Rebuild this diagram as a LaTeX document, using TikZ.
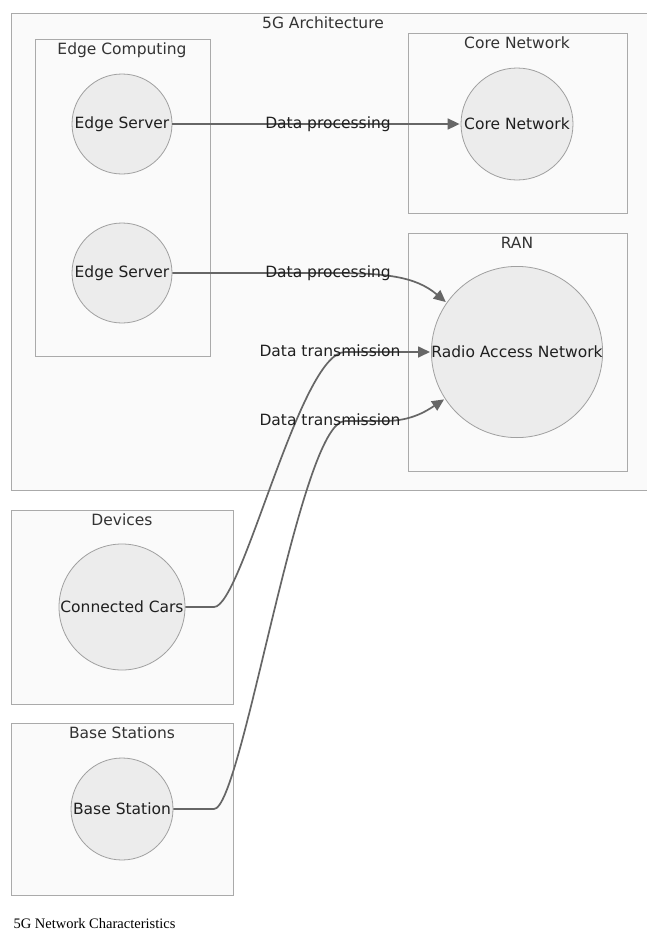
\documentclass[tikz,border=0pt]{standalone}
\usepackage{fontspec}
\setmainfont{DejaVu Sans}
\newfontfamily\captionfont{Liberation Serif}
\usetikzlibrary{arrows.meta}
\definecolor{boxfill}{HTML}{FAFAFA}
\definecolor{boxline}{HTML}{AAAAAA}
\definecolor{nodefill}{HTML}{ECECEC}
\definecolor{nodeline}{HTML}{A0A0A0}
\definecolor{linkcol}{HTML}{666666}
\definecolor{txt}{HTML}{333333}

\begin{document}
\begin{tikzpicture}[x=1pt, y=-1pt, shorten >=1pt, text=txt, font=\fontsize{15.5}{18}\selectfont,
    group/.style={draw=boxline, fill=boxfill, line width=0.9pt},
    link/.style={draw=linkcol, line width=1.7pt, -{Triangle[length=12pt,width=11pt]}}]
   \useasboundingbox (0,0) rectangle (647,932);
   \fill[white] (0,0) rectangle (647,932);
   \draw[group] (11,13) rectangle (652,490);
   \draw[group] (35,39) rectangle (210,356);
   \draw[group] (408,33) rectangle (627,213);
   \draw[group] (408,233) rectangle (627,471);
   \draw[group] (11,510) rectangle (233,704);
   \draw[group] (11,723) rectangle (233,895);
   \begin{scope}[every node/.style={text height=11pt, text depth=3pt}]
    \node (arch) at (323,24) {5G Architecture};
    \node (edge) at (122,50) {Edge Computing};
    \node (coret) at (517,44) {Core Network};
    \node (rant) at (517,244) {RAN};
    \node (devt) at (122,521) {Devices};
    \node (bst) at (122,734) {Base Stations};
   \end{scope}
   \begin{scope}[every node/.style={circle, draw=nodeline, fill=nodefill, line width=0.8pt, inner sep=0pt, text=black!88}]
    \node[minimum size=100pt] (es1) at (122,124) {Edge Server};
    \node[minimum size=100pt] (es2) at (122,273) {Edge Server};
    \node[minimum size=112pt] (core) at (517,124) {Core Network};
    \node[minimum size=170pt] (ran) at (517,352) {Radio Access Network};
    \node[minimum size=126pt] (cars) at (122,607) {Connected Cars};
    \node[minimum size=102pt] (bs) at (122,809) {Base Station};
   \end{scope}
   \begin{scope}[every node/.style={text=black!88, text height=11pt, text depth=3pt}]
    \draw[link] (es1) -- node[pos=0.54]{Data processing} (core);
    \draw[link] (es2.east) -- (328,273) node{Data processing}
       .. controls (385,273) and (415,276) .. (ran.145);
    \draw[link] (cars.east) -- (214,607) .. controls (242,607) and (300,352) .. (345,352)
       node[xshift=-15pt]{Data transmission} -- (ran);
    \draw[link] (bs.east) -- (214,809) .. controls (242,809) and (300,421) .. (345,421)
       node[xshift=-15pt]{Data transmission} -- (385,421) .. controls (410,421) and (425,412) .. (ran.213);
   \end{scope}
   \node[anchor=west, text=black, font=\captionfont\fontsize{14.5}{16}\selectfont] (cap) at (10,924) {5G Network Characteristics};
\end{tikzpicture}
\end{document}
